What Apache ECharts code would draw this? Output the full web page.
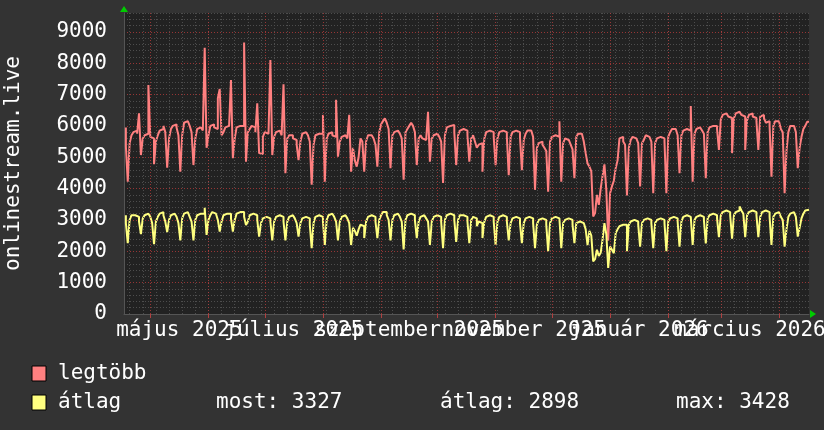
<!DOCTYPE html>
<html><head><meta charset="utf-8">
<script src="https://cdn.jsdelivr.net/npm/echarts@6/dist/echarts.min.js"></script>
<style>html,body{margin:0;padding:0;background:#333333;}#c{width:824px;height:430px;}</style>
</head><body><div id="c"></div>
<script>
// first data day (UTC), axis range
const firstDay = [2025, 3, 18];
const axisStartDay = [2025, 3, 17];
const axisEndDay = [2026, 3, 17];

// daily maximum ("legtöbb"): Fri..Sun, then weeks Mon..Sun, then Mon..Fri
const legtobb = [
5950,5350,4220,
5450,5700,5800,5850,5750,6400,5070,
5600,5700,5750,7300,5650,5600,4780,
5500,5700,5850,5900,6000,5800,4670,
5600,5900,6000,6050,5950,5700,4540,
5700,6100,6150,6100,6000,5800,4750,
5600,5900,5950,5900,5850,8490,5300,
5700,6000,6050,5950,5900,6880,7175,
5700,5800,5950,6000,5950,7460,4970,
5600,5950,6000,6050,6000,8660,4860,
5800,5900,6000,5950,5800,6720,5130,
5100,5650,5800,5750,5700,8100,5070,
5650,5800,5850,5800,5700,7325,4490,
5600,5700,5700,5600,5550,5400,4910,
5500,5750,5800,5750,5700,5500,4120,
5400,5700,5750,5800,5750,6350,4220,
5600,5750,5800,5700,5650,6830,5020,
5500,5650,5700,5650,5600,6350,4540,
5300,4900,4700,5000,5600,5500,4540,
5500,5700,5700,5650,5600,5400,4700,
5800,6050,6150,6240,6100,5900,4650,
5700,5800,5850,5800,5750,5600,4280,
5800,5900,6000,6100,6000,5800,4750,
5600,5700,5600,5550,5500,6450,4860,
5600,5700,5750,5700,5650,5500,4180,
5700,5950,6000,5950,6030,5800,4750,
5700,5850,5900,5900,5850,5700,4860,
5600,5700,5500,5300,5400,5450,4540,
5600,5800,5850,5870,5800,5650,4750,
5600,5800,5850,5850,5800,5650,4430,
5650,5800,5850,5850,5800,5650,4590,
5550,5750,5850,5850,5800,5650,3960,
5300,5450,5500,5400,5300,5200,3900,
5500,5650,5700,5700,5650,6150,4220,
5450,5600,5550,5500,5400,5250,4330,
5650,5750,5750,5700,5500,5130,4800,
4700,4550,3110,3220,3800,3480,4000,
4400,4770,3960,2340,3850,4070,4250,
4650,4900,5600,5650,5500,5400,3780,
5300,5550,5650,5600,5550,5450,4070,
5450,5550,5700,5650,5600,5500,3850,
5450,5600,5650,5650,5600,5500,3850,
5650,5800,5900,5900,5850,5700,4490,
5700,5850,5900,5900,5850,6630,4220,
5750,5900,5950,5900,5850,5750,4330,
5800,5950,6000,6050,6000,5900,5230,
6200,6350,6400,6350,6300,6250,5130,
6250,6400,6450,6400,6350,6300,5230,
6200,6350,6400,6300,6250,6150,5230,
6300,6350,6250,6100,6150,6000,4380,
6000,6150,6150,6100,5900,5800,3850,
5200,5800,6000,6000,5950,5800,4650,
5300,5650,5900,6000,6130
];

// daily average ("átlag")
const atlag = [
3150,2900,2260,
3000,3150,3150,3120,3100,2950,2550,
3050,3150,3200,3150,3100,2900,2230,
2950,3100,3200,3250,3150,2950,2610,
3000,3150,3200,3200,3100,2900,2350,
3050,3200,3250,3200,3100,2950,2350,
3000,3150,3200,3250,3200,3390,2520,
3000,3150,3250,3200,3150,3000,2630,
2950,3150,3200,3250,3200,3050,2630,
3000,3200,3250,3300,3250,3100,2840,
2950,3150,3200,3200,3150,3000,2470,
2900,3050,3100,3100,3050,2950,2350,
2950,3100,3150,3150,3100,2950,2350,
2950,3100,3150,3100,3050,2900,2470,
2900,3050,3100,3100,3050,2850,2100,
2900,3100,3150,3150,3100,2950,2200,
3000,3150,3200,3150,3100,2950,2350,
2950,3100,3150,3100,3050,2900,2200,
2750,2650,2500,2700,2850,2800,2420,
2950,3100,3150,3150,3100,2950,2420,
3000,3150,3250,3250,3150,3000,2350,
3000,3150,3200,3150,3100,2950,2060,
3000,3150,3200,3200,3150,3000,2420,
2950,3100,3150,3100,3050,2950,2200,
2950,3100,3150,3150,3100,2950,2100,
3000,3150,3200,3200,3150,3000,2300,
3000,3150,3150,3150,3100,2950,2260,
3000,3100,3050,2800,2950,2900,2420,
2950,3100,3150,3150,3100,2950,2200,
2950,3100,3150,3150,3100,2950,2350,
2900,3050,3100,3100,3050,2900,2260,
2900,3050,3100,3100,3050,2900,2100,
2850,3000,3050,3050,3000,2850,2000,
2900,3050,3100,3100,3050,3000,2100,
2900,3000,3050,3050,3000,2850,2260,
2900,2950,2950,2900,2850,2700,2200,
2650,2500,1680,1750,2050,1850,1950,
2370,2900,2550,1470,2150,2050,1940,
2580,2700,2800,2850,2900,2850,2000,
2850,2950,3000,3000,2950,2850,2150,
2900,3000,3050,3050,3000,2900,2100,
2900,3000,3050,3050,3000,2900,2000,
2950,3050,3100,3100,3050,2950,2150,
2950,3100,3150,3150,3100,3050,2200,
3000,3100,3150,3150,3100,3000,2250,
3050,3150,3200,3200,3150,3050,2450,
3150,3250,3300,3300,3250,3150,2400,
3150,3250,3300,3428,3300,3200,2450,
3150,3250,3300,3300,3250,3150,2450,
3100,3250,3300,3300,3250,3100,2200,
3100,3200,3250,3200,3100,3000,2150,
2700,3100,3200,3250,3200,3100,2470,
2750,3050,3200,3300,3327
];

// x labels: [year, monthIndex, text]; two rows of alternate labels so overlap is kept
const xLabelMonthsA = [
  [2025, 4, 'május 2025'],
  [2025, 8, 'szeptember 2025'],
  [2026, 0, 'január 2026']
];
const xLabelMonthsB = [
  [2025, 6, 'július 2025'],
  [2025, 10, 'november 2025'],
  [2026, 2, 'március 2026']
];
const yLabelStep = 1000;
const yMaxLabel = 9000;
const yAxisTitle = 'onlinestream.live';
const seriesNames = ['legtöbb', 'átlag'];
const statTexts = ['most: 3327', 'átlag: 2898', 'max: 3428'];

const DAY = 86400000;
const t0 = Date.UTC(firstDay[0], firstDay[1], firstDay[2]);
const xMin = Date.UTC(axisStartDay[0], axisStartDay[1], axisStartDay[2]);
const xMax = Date.UTC(axisEndDay[0], axisEndDay[1], axisEndDay[2]);
const redData = legtobb.map((v, i) => [t0 + i * DAY, v]);
const yelData = atlag.map((v, i) => [t0 + i * DAY, v]);

// grid lines: weekly (Sunday 00:00) and monthly
const weekLines = [];
for (let t = Date.UTC(2025, 3, 20); t < xMax; t += 7 * DAY) weekLines.push(t);
const monthLines = [];
for (let k = 0; k < 12; k++) monthLines.push(Date.UTC(2025, 4 + k, 1));
const labelMap = {};
const toTimes = list => list.map(([y, m, s]) => {
  const t = (Date.UTC(y, m, 1) + Date.UTC(y, m + 1, 1)) / 2;
  labelMap[t] = s; return t;
});
const labelTimesA = toTimes(xLabelMonthsA);
const labelTimesB = toTimes(xLabelMonthsB);

const FONT = 'DejaVu Sans Mono';
const MINOR = '#4d4d4d';
const MAJOR = 'rgba(190,60,60,0.75)';
const RED = '#ff8080';
const YEL = '#ffff80';

const labelAxis = (times, withLine) => ({
  type: 'value', min: xMin, max: xMax, position: 'bottom',
  axisLine: {show: withLine, lineStyle: {color: '#555555', width: 1}},
  axisTick: withLine ? {show: true, customValues: monthLines, length: 4, lineStyle: {color: '#b04040'}} : {show: false},
  splitLine: {show: false},
  axisLabel: {
    customValues: times, margin: 6, showMinLabel: true, showMaxLabel: true, hideOverlap: false,
    color: '#ffffff', fontFamily: FONT, fontSize: 21,
    formatter: v => labelMap[v] || ''
  }
});

const chart = echarts.init(document.getElementById('c'), null, {renderer: 'canvas'});
const option = {
  backgroundColor: '#333333',
  animation: false,
  grid: {left: 124, right: 15, top: 13, bottom: 116, containLabel: false, outerBoundsMode: 'none',
         show: true, backgroundColor: '#222222', borderWidth: 0},
  xAxis: [labelAxis(labelTimesA, true), labelAxis(labelTimesB, false)],
  yAxis: {
    type: 'value', min: 0, max: 9600, interval: 200,
    name: yAxisTitle, nameLocation: 'middle', nameRotate: 90, nameGap: 100,
    nameTextStyle: {color: '#ffffff', fontFamily: FONT, fontSize: 21},
    axisLine: {show: true, lineStyle: {color: '#555555', width: 1}},
    axisTick: {show: false},
    axisLabel: {
      margin: 17, color: '#ffffff', fontFamily: FONT, fontSize: 21,
      formatter: v => (v % yLabelStep === 0 && v <= yMaxLabel) ? String(v) : ''
    },
    splitLine: {show: true, lineStyle: {color: [MAJOR, MINOR, MINOR, MINOR, MINOR], type: [1, 2], width: 1}}
  },
  series: [
    {
      type: 'line', data: [], silent: true, z: 1, xAxisIndex: 0,
      markLine: {
        silent: true, symbol: 'none', label: {show: false}, animation: false,
        data: weekLines.map(t => ({xAxis: t, lineStyle: {color: MINOR, type: [1, 2], width: 1}}))
          .concat(monthLines.map(t => ({xAxis: t, lineStyle: {color: MAJOR, type: [1, 2], width: 1}})))
      }
    },
    {
      name: seriesNames[0], type: 'line', data: redData, step: 'start', showSymbol: false, z: 3, xAxisIndex: 0,
      lineStyle: {color: RED, width: 2}, itemStyle: {color: RED}
    },
    {
      name: seriesNames[1], type: 'line', data: yelData, step: 'start', showSymbol: false, z: 4, xAxisIndex: 0,
      lineStyle: {color: YEL, width: 2}, itemStyle: {color: YEL}
    }
  ]
};
chart.setOption(option);

// legend + axis arrows
const pTopLeft = chart.convertToPixel({gridIndex: 0}, [xMin, 9600]);
const pBotRight = chart.convertToPixel({gridIndex: 0}, [xMax, 0]);
const txt = (x, y, s) => ({type: 'text', x: x, y: y, style: {text: s, fill: '#ffffff', font: '21px "' + FONT + '"', textVerticalAlign: 'middle'}});
chart.setOption({
  graphic: [
    {type: 'polygon', shape: {points: [[pTopLeft[0] - 4, pTopLeft[1] - 1], [pTopLeft[0] + 4, pTopLeft[1] - 1], [pTopLeft[0], pTopLeft[1] - 7]]}, style: {fill: '#00cc00'}},
    {type: 'polygon', shape: {points: [[pBotRight[0] + 1, pBotRight[1] - 4], [pBotRight[0] + 1, pBotRight[1] + 4], [pBotRight[0] + 7, pBotRight[1]]]}, style: {fill: '#00cc00'}},
    {type: 'rect', shape: {x: 32, y: 366, width: 14, height: 15}, style: {fill: RED, stroke: '#000000', lineWidth: 1}},
    txt(58, 374, seriesNames[0]),
    {type: 'rect', shape: {x: 32, y: 395, width: 14, height: 15}, style: {fill: YEL, stroke: '#000000', lineWidth: 1}},
    txt(58, 403, seriesNames[1]),
    txt(216, 403, statTexts[0]),
    txt(440, 403, statTexts[1]),
    txt(676, 403, statTexts[2])
  ]
});
</script>
</body></html>
